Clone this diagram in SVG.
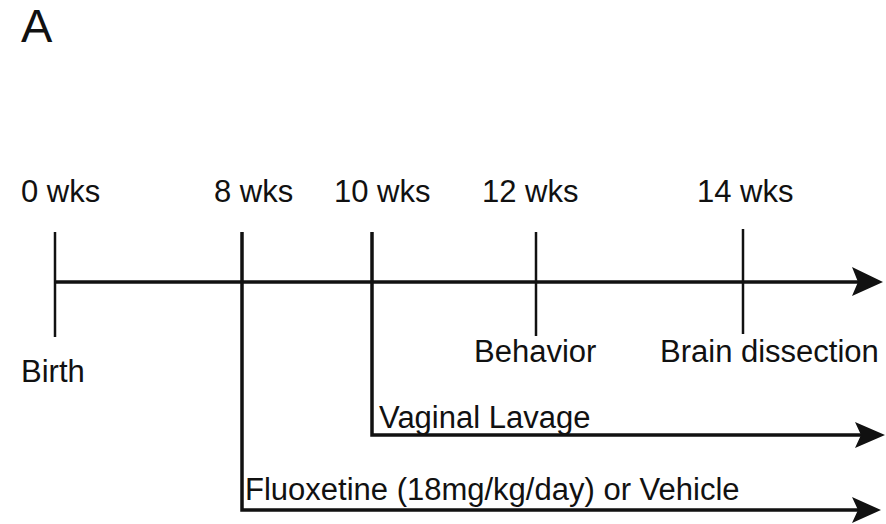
<svg xmlns="http://www.w3.org/2000/svg" width="886" height="524" viewBox="0 0 886 524">
<style>
  text { font-family: "Liberation Sans", Arial, sans-serif; font-size: 31px; fill: #111; }
  .ln { stroke: #111; fill: none; stroke-linecap: butt; }
  .tick { stroke-width: 2.5; }
  .axis { stroke-width: 3.5; }
  .head { fill: #111; stroke: none; }
</style>
<rect width="886" height="524" fill="#fff"/>
<text id="panel-label" x="21" y="42" style="font-size:47px">A</text>

<g id="connectors">
  <line class="ln axis" x1="54" y1="282" x2="862" y2="282"/>
  <polygon class="head" points="852,267 883,282 852,296 858,282"/>
  <polyline class="ln axis" points="372,232 372,435 862,435"/>
  <polygon class="head" points="855,422 885,435 855,448 861,435"/>
  <polyline class="ln axis" points="242,232 242,510 858,510"/>
  <polygon class="head" points="852,497 881,510 852,523 858,510"/>
</g>

<g id="week0">
  <line class="ln tick" x1="55" y1="232" x2="55" y2="337"/>
  <text x="21" y="202">0 wks</text>
  <text x="21" y="382">Birth</text>
</g>
<g id="week8">
  <text x="214" y="202">8 wks</text>
</g>
<g id="week10">
  <text x="334" y="202">10 wks</text>
</g>
<g id="week12">
  <line class="ln tick" x1="536" y1="232" x2="536" y2="336"/>
  <text x="482" y="202">12 wks</text>
  <text x="474" y="362">Behavior</text>
</g>
<g id="week14">
  <line class="ln tick" x1="743" y1="229" x2="743" y2="334"/>
  <text x="697" y="202">14 wks</text>
  <text x="660" y="362">Brain dissection</text>
</g>
<g id="vaginal-lavage">
  <text x="379" y="428">Vaginal Lavage</text>
</g>
<g id="fluoxetine">
  <text x="245" y="500">Fluoxetine (18mg/kg/day) or Vehicle</text>
</g>
</svg>
